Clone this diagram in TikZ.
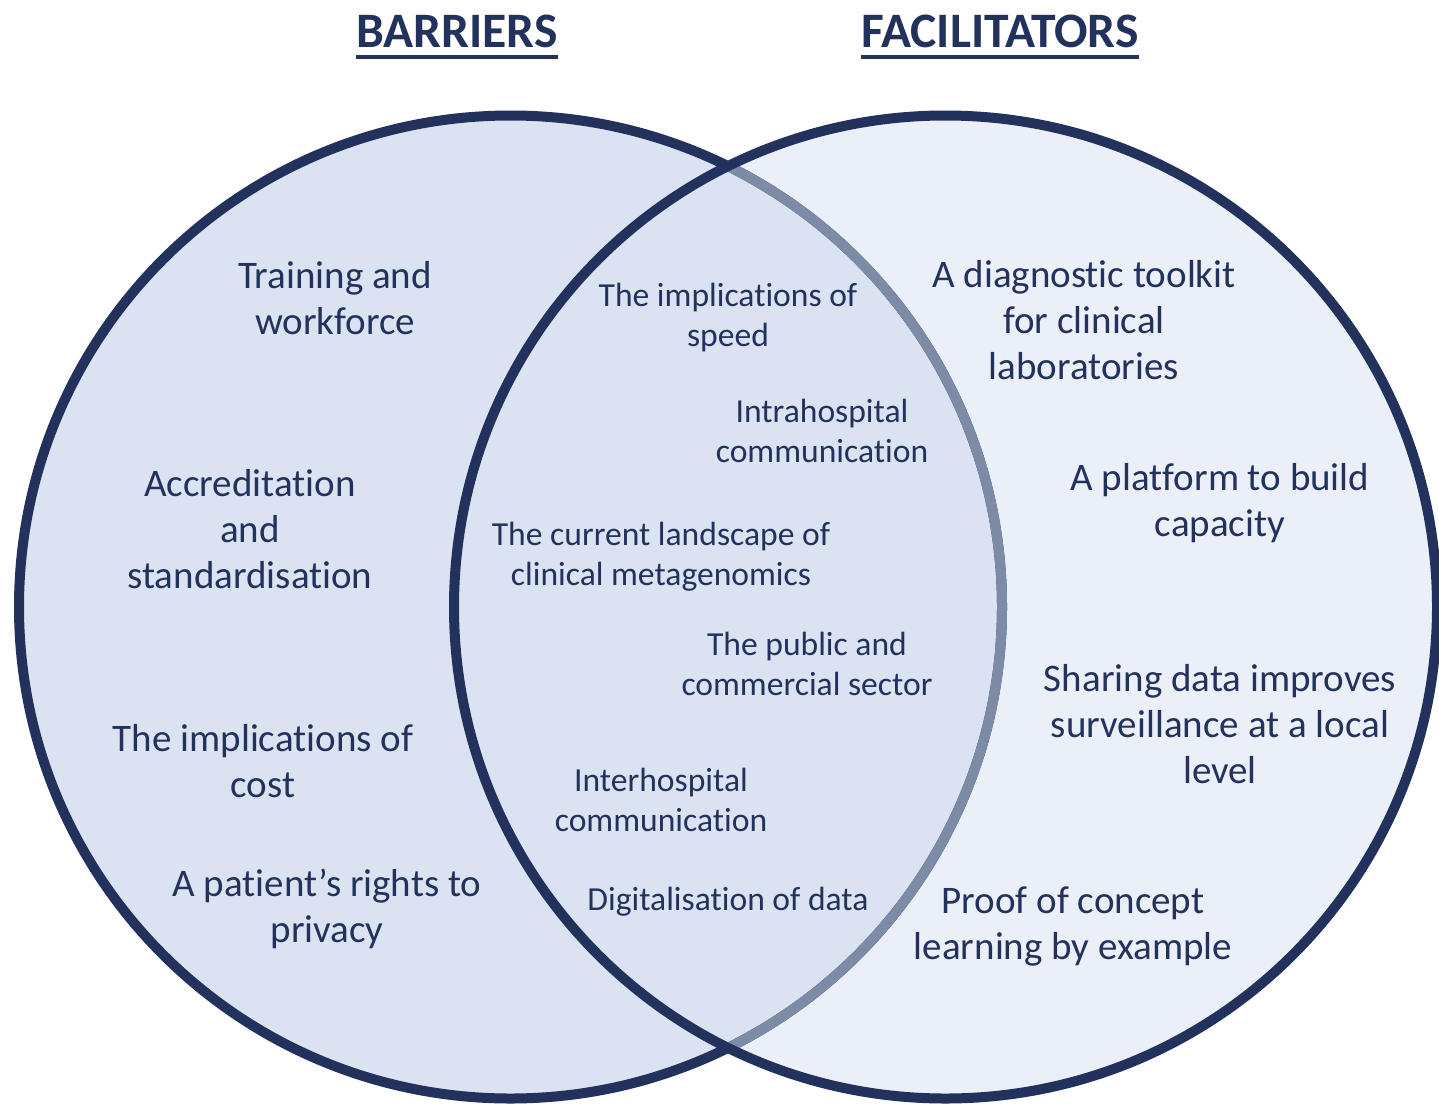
\documentclass[tikz,border=0pt]{standalone}
\usepackage{fontspec}
\setmainfont{Carlito}[Ligatures=NoCommon]
\definecolor{navy}{HTML}{22325C}
\definecolor{greyarc}{HTML}{7E8BA7}
\definecolor{leftfill}{HTML}{DBE2F1}
\definecolor{rightfill}{HTML}{EAEFF8}
\tikzset{
  outertext/.style={align=center, text=navy, inner sep=0pt, font=\fontsize{19.5}{23}\selectfont},
  innertext/.style={align=center, text=navy, inner sep=0pt, font=\fontsize{16.8}{20}\selectfont},
  titletext/.style={text=navy, inner sep=0pt, anchor=base, font=\bfseries\fontsize{24.8}{28}\selectfont},
  ring/.style={draw=navy, line width=5pt},
}
\begin{document}
\begin{tikzpicture}[x=0.5pt,y=-0.5pt]
\useasboundingbox (0,0) rectangle (1439,1103);
\clip (0,0) rectangle (1439,1103);
\coordinate (L) at (510.5,607);
\coordinate (R) at (945.5,607);
% fills
\fill[rightfill] (R) circle[radius=491.5];
\fill[leftfill] (L) circle[radius=491.5];
% left ring
\draw[ring] (L) circle[radius=491.5];
\begin{scope}
  \clip (R) circle[radius=491.5];
  \draw[line width=5pt, draw=greyarc] (L) circle[radius=491.5];
\end{scope}
% right ring
\draw[ring] (R) circle[radius=491.5];

% titles
\node[titletext] (tb) at (457,47) {BARRIERS};
\node[titletext] (tf) at (1000,47) {FACILITATORS};
\coordinate (tbl) at ([yshift=-5pt]tb.base west);
\coordinate (tbr) at ([yshift=-5pt]tb.base east);
\coordinate (tfl) at ([yshift=-5pt]tf.base west);
\coordinate (tfr) at ([yshift=-5pt]tf.base east);
\draw[navy, line width=2.2pt] (tbl) -- (tbr);
\draw[navy, line width=2.2pt] (tfl) -- (tfr);

% barriers
\node[outertext] (b1) at (335,298) {Training and\\workforce};
\node[outertext] (b2) at (250,529) {Accreditation\\and\\standardisation};
\node[outertext] (b3) at (263,761) {The implications of\\cost};
\node[outertext] (b4) at (327,909) {A patient’s rights to\\privacy};

% overlap
\node[innertext] (c1) at (728,318) {The implications of\\speed};
\node[innertext] (c2) at (822,431) {Intrahospital\\communication};
\node[innertext] (c3) at (661,557) {The current landscape of\\clinical metagenomics};
\node[innertext] (c4) at (807,664) {The public and\\commercial sector};
\node[innertext] (c5) at (661,800) {Interhospital\\communication};
\node[innertext] (c6) at (728,902) {Digitalisation of data};

% facilitators
\node[outertext] (f1) at (1084,320) {A diagnostic toolkit\\for clinical\\laboratories};
\node[outertext] (f2) at (1220,503) {A platform to build\\capacity};
\node[outertext] (f3) at (1220,724) {Sharing data improves\\surveillance at a local\\level};
\node[outertext] (f4) at (1073,926) {Proof of concept\\learning by example};
\end{tikzpicture}
\end{document}
